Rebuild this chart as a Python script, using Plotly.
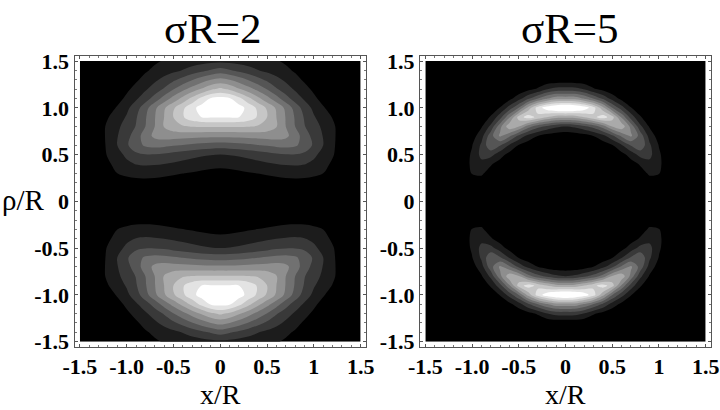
import numpy as np
import plotly.graph_objects as go

# grid of one quadrant, the other three are mirrored
x_vals = [0.0, 0.1, 0.2, 0.3, 0.4, 0.5, 0.6, 0.7, 0.8, 0.9, 1.0, 1.1, 1.2, 1.3, 1.4, 1.5]
rho_vals = [0.0, 0.1, 0.2, 0.3, 0.4, 0.5, 0.6, 0.7, 0.8, 0.9, 1.0, 1.1, 1.2, 1.3, 1.4, 1.5]

# sigma R = 2, one row per rho
z_sr2 = [
    [0, 0, 0, 0, 0, 0, 0, 0, 0, 0, 0, 0, 0, 0, 0, 0],
    [.03, .03, .04, .05, .06, .08, .1, .12, .14, .14, .12, .1, .06, .02, 0, 0],
    [.2, .22, .28, .36, .45, .55, .65, .72, .75, .72, .62, .5, .3, .1, .01, 0],
    [.65, .7, .8, .93, 1.02, 1.12, 1.2, 1.28, 1.3, 1.3, 1.2, 1.0, .6, .2, .03, 0],
    [1.3, 1.35, 1.45, 1.6, 1.75, 1.88, 2.0, 2.1, 2.15, 2.05, 1.75, 1.3, .85, .3, .05, 0],
    [2.0, 2.05, 2.15, 2.3, 2.45, 2.65, 2.85, 2.95, 2.95, 2.8, 2.25, 1.6, 1.1, .45, .1, 0],
    [3.5, 3.55, 3.65, 3.8, 3.95, 4.1, 4.25, 4.35, 4.15, 3.6, 2.85, 2.0, 1.2, .45, .1, 0],
    [5.25, 5.25, 5.3, 5.35, 5.4, 5.45, 5.5, 5.25, 4.5, 3.5, 2.65, 1.95, 1.25, .45, .1, 0],
    [7.1, 7.1, 7.1, 7.05, 6.9, 6.6, 6.05, 5.0, 4.0, 3.05, 2.4, 1.8, 1.2, .5, .1, 0],
    [9.05, 9.05, 9.0, 8.6, 7.9, 7.0, 6.0, 4.95, 3.9, 2.9, 2.1, 1.5, .95, .35, .05, 0],
    [10.0, 9.9, 9.4, 8.7, 7.8, 6.85, 5.85, 4.75, 3.6, 2.55, 1.75, 1.1, .55, .15, .02, 0],
    [9.3, 9.1, 8.3, 7.3, 6.3, 5.35, 4.4, 3.4, 2.55, 1.85, 1.2, .65, .25, .05, 0, 0],
    [7.2, 6.8, 6.1, 5.4, 4.7, 3.95, 3.1, 2.45, 1.85, 1.3, .8, .4, .12, .02, 0, 0],
    [5.3, 5.0, 4.5, 3.95, 3.35, 2.8, 2.3, 1.8, 1.3, .85, .45, .2, .05, 0, 0, 0],
    [3.45, 3.1, 2.75, 2.4, 2.05, 1.75, 1.48, 1.2, .88, .55, .25, .1, .02, 0, 0, 0],
    [1.75, 1.7, 1.6, 1.5, 1.4, 1.25, 1.08, .85, .55, .28, .1, .03, 0, 0, 0, 0],
]

# sigma R = 5
z_sr5 = [
    [0, 0, 0, 0, 0, 0, 0, 0, 0, 0, 0, 0, 0, 0, 0, 0],
    [0, 0, 0, 0, 0, 0, 0, 0, .02, .07, .1, .04, 0, 0, 0, 0],
    [0, 0, 0, 0, 0, 0, 0, .05, .17, .55, .5, .16, .03, 0, 0, 0],
    [0, 0, 0, 0, 0, 0, .02, .19, .6, 1.15, 1.05, .3, .07, 0, 0, 0],
    [0, 0, 0, 0, 0, .01, .18, .56, 1.11, 1.7, 1.2, .45, .07, 0, 0, 0],
    [0, 0, 0, 0, .01, .21, .65, 1.42, 2.36, 2.3, 1.15, .4, .05, 0, 0, 0],
    [0, 0, 0, .1, .4, .93, 1.89, 3.1, 3.8, 2.17, .95, .2, .03, 0, 0, 0],
    [.3, .36, .58, 1.02, 1.7, 2.78, 4.23, 5.2, 3.6, 1.58, .52, .08, 0, 0, 0, 0],
    [2.0, 2.22, 2.76, 3.4, 4.45, 6.05, 6.7, 4.7, 2.26, .88, .2, .03, 0, 0, 0, 0],
    [6.3, 6.4, 7.0, 7.75, 8.5, 7.45, 4.87, 2.6, 1.12, .32, .03, 0, 0, 0, 0, 0],
    [10.6, 10.3, 9.6, 8.4, 6.33, 4.03, 2.4, 1.06, .32, .04, 0, 0, 0, 0, 0, 0],
    [5.6, 5.6, 4.9, 3.9, 2.8, 1.57, .69, .19, .03, 0, 0, 0, 0, 0, 0, 0],
    [2.4, 2.35, 1.95, 1.13, .66, .27, .06, 0, 0, 0, 0, 0, 0, 0, 0, 0],
    [.3, .28, .2, .1, .04, .01, 0, 0, 0, 0, 0, 0, 0, 0, 0, 0],
    [0, 0, 0, 0, 0, 0, 0, 0, 0, 0, 0, 0, 0, 0, 0, 0],
    [0, 0, 0, 0, 0, 0, 0, 0, 0, 0, 0, 0, 0, 0, 0, 0],
]

band_greys = ['#000000', '#1c1c1c', '#393939', '#555555', '#717171',
              '#8e8e8e', '#aaaaaa', '#c6c6c6', '#e3e3e3', '#ffffff']

panel_titles = ['σR=2', 'σR=5']
x_ticks = [-1.5, -1.0, -0.5, 0, 0.5, 1, 1.5]
x_ticktext = ['-1.5', '-1.0', '-0.5', '0', '0.5', '1', '1.5']
y_ticks = [-1.5, -1.0, -0.5, 0, 0.5, 1.0, 1.5]
y_ticktext = ['-1.5', '-1.0', '-0.5', '0', '0.5', '1.0', '1.5']

W, H = 720, 410
FONT = 'Liberation Serif'
AXIS_RANGE = [-1.557, 1.557]


def mirror(z):
    # quadrant -> full plane, the picture is symmetric in x and rho
    z = np.array(z, dtype=float)
    z = np.hstack([z[:, :0:-1], z])
    return np.vstack([z[:0:-1, :], z])


full_x = [-v for v in x_vals[:0:-1]] + x_vals
full_rho = [-v for v in rho_vals[:0:-1]] + rho_vals
colorscale = [[i / (len(band_greys) - 1), c] for i, c in enumerate(band_greys)]

fig = go.Figure()
for i, (z, smooth) in enumerate([(z_sr2, 1.0), (z_sr5, 0.9)]):
    suffix = '' if i == 0 else '2'
    fig.add_trace(go.Contour(
        x=full_x, y=full_rho, z=mirror(z),
        xaxis='x' + suffix, yaxis='y' + suffix,
        autocontour=False,
        contours=dict(start=1, end=9, size=1, coloring='fill'),
        colorscale=colorscale,
        line=dict(width=0, smoothing=smooth),
        showscale=False,
    ))

axis_style = dict(
    range=AXIS_RANGE, showgrid=False, zeroline=False, automargin=False,
    showline=True, linecolor='#555555', linewidth=1, mirror='allticks',
    ticks='inside', ticklen=3, tickcolor='#555555', tickwidth=1,
    minor=dict(ticks='inside', dtick=0.1, ticklen=2, tickcolor='#777777', tickwidth=1),
    tickfont=dict(family=FONT, size=22, color='black', weight='bold'),
)
y_dom = [1 - 347 / H, 1 - 55.7 / H]
fig.update_layout(
    width=W, height=H, margin=dict(l=0, r=0, t=0, b=0),
    paper_bgcolor='white', plot_bgcolor='white', showlegend=False,
    xaxis=dict(domain=[74.5 / W, 366 / W], anchor='y', tickvals=x_ticks, ticktext=x_ticktext, **axis_style),
    yaxis=dict(domain=y_dom, anchor='x', tickvals=y_ticks, ticktext=y_ticktext, **axis_style),
    xaxis2=dict(domain=[420 / W, 711 / W], anchor='y2', tickvals=x_ticks, ticktext=x_ticktext, **axis_style),
    yaxis2=dict(domain=y_dom, anchor='x2', tickvals=y_ticks, ticktext=y_ticktext, **axis_style),
)


def add_text(text, px, py, size):
    fig.add_annotation(text=text, xref='paper', yref='paper', x=px / W, y=1 - py / H,
                       xanchor='center', yanchor='middle', showarrow=False,
                       font=dict(family=FONT, size=size, color='black'))


# panel titles and axis labels
add_text(panel_titles[0], 213, 28, 43)
add_text(panel_titles[1], 570, 28, 43)
add_text('x/R', 220, 394, 28)
add_text('x/R', 565.5, 394, 28)
add_text('ρ/R', 23, 200, 29)

# the browser's default body margin would shift the figure by 8px
fig.write_html('out.html', config=dict(displayModeBar=False),
               post_script="document.body.style.margin='0'")
